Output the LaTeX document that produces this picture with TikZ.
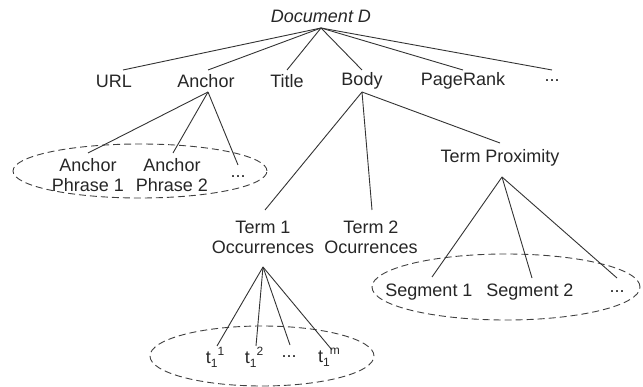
\documentclass[tikz,border=0pt]{standalone}
\usepackage{fontspec}
\setmainfont{Liberation Sans}
\usetikzlibrary{shapes.geometric}
\newcommand{\tsub}[1]{t\raisebox{-0.35ex}{\fontsize{12}{12}\selectfont 1}\raisebox{0.9ex}{\fontsize{12}{12}\selectfont #1}}
\begin{document}
\begin{tikzpicture}[x=1pt,y=-1pt,
  lbl/.style={inner sep=0pt,font=\fontsize{18}{20}\selectfont,align=center,text=black!85},
  edge/.style={line width=0.9pt,draw=black!80},
  group/.style={ellipse,draw=black!75,line width=0.9pt,dash pattern=on 7pt off 4pt,inner sep=0pt}]
\useasboundingbox (0,0) rectangle (643,387);
% groups
\node[group,minimum width=254pt,minimum height=54pt] (g1) at (140,171) {};
\node[group,minimum width=268pt,minimum height=66pt] (g2) at (506,287) {};
\node[group,minimum width=224pt,minimum height=60pt] (g3) at (262,356) {};
% nodes
\node[lbl,font=\fontsize{18}{20}\selectfont\itshape] (doc) at (321,16) {Document D};
\node[lbl] (url) at (114,81) {URL};
\node[lbl] (anchor) at (206,81) {Anchor};
\node[lbl] (title) at (287,81) {Title};
\node[lbl] (body) at (362,81) {Body};
\node[lbl] (pr) at (463,81) {PageRank};
\node[lbl] (dots1) at (552,81) {...};
\node[lbl] (ap1) at (88,175) {Anchor\\Phrase 1};
\node[lbl] (ap2) at (172,175) {Anchor\\Phrase 2};
\node[lbl] (dots2) at (238,177) {...};
\node[lbl] (t1) at (263,237) {Term 1\\Occurrences};
\node[lbl] (t2) at (371,237) {Term 2\\Ocurrences};
\node[lbl] (tp) at (500,158) {Term Proximity};
\node[lbl] (s1) at (429,292) {Segment 1};
\node[lbl] (s2) at (530,292) {Segment 2};
\node[lbl] (dots3) at (617,292) {...};
\node[lbl] (o1) at (215,357) {\tsub{1}};
\node[lbl] (o2) at (254,357) {\tsub{2}};
\node[lbl] (dots4) at (289,357) {...};
\node[lbl] (om) at (329,357) {\tsub{m}};
% connection points
\coordinate (docP) at (321,28);
\coordinate (urlT) at (123,70);
\coordinate (anchorT) at (208,70);
\coordinate (titleT) at (287,70);
\coordinate (bodyT) at (362,70);
\coordinate (prT) at (463,70);
\coordinate (dots1T) at (552,70);
\coordinate (anchorP) at (208,92);
\coordinate (ap1T) at (88,153);
\coordinate (ap2T) at (173,153);
\coordinate (dots2T) at (238,165);
\coordinate (bodyP) at (362,92);
\coordinate (t1T) at (265,210);
\coordinate (t2T) at (372,210);
\coordinate (tpT) at (500,143);
\coordinate (tpP) at (502,177);
\coordinate (s1T) at (432,277);
\coordinate (s2T) at (532,278);
\coordinate (dots3T) at (617,278);
\coordinate (t1P) at (263,267);
\coordinate (o1T) at (217,346);
\coordinate (o2T) at (256,346);
\coordinate (dots4T) at (290,345);
\coordinate (omT) at (332,350);
% edges
\foreach \e in {urlT,anchorT,titleT,bodyT,prT,dots1T} \draw[edge] (docP) -- (\e);
\foreach \e in {ap1T,ap2T,dots2T} \draw[edge] (anchorP) -- (\e);
\foreach \e in {t1T,t2T,tpT} \draw[edge] (bodyP) -- (\e);
\foreach \e in {s1T,s2T,dots3T} \draw[edge] (tpP) -- (\e);
\foreach \e in {o1T,o2T,dots4T,omT} \draw[edge] (t1P) -- (\e);
\end{tikzpicture}
\end{document}
